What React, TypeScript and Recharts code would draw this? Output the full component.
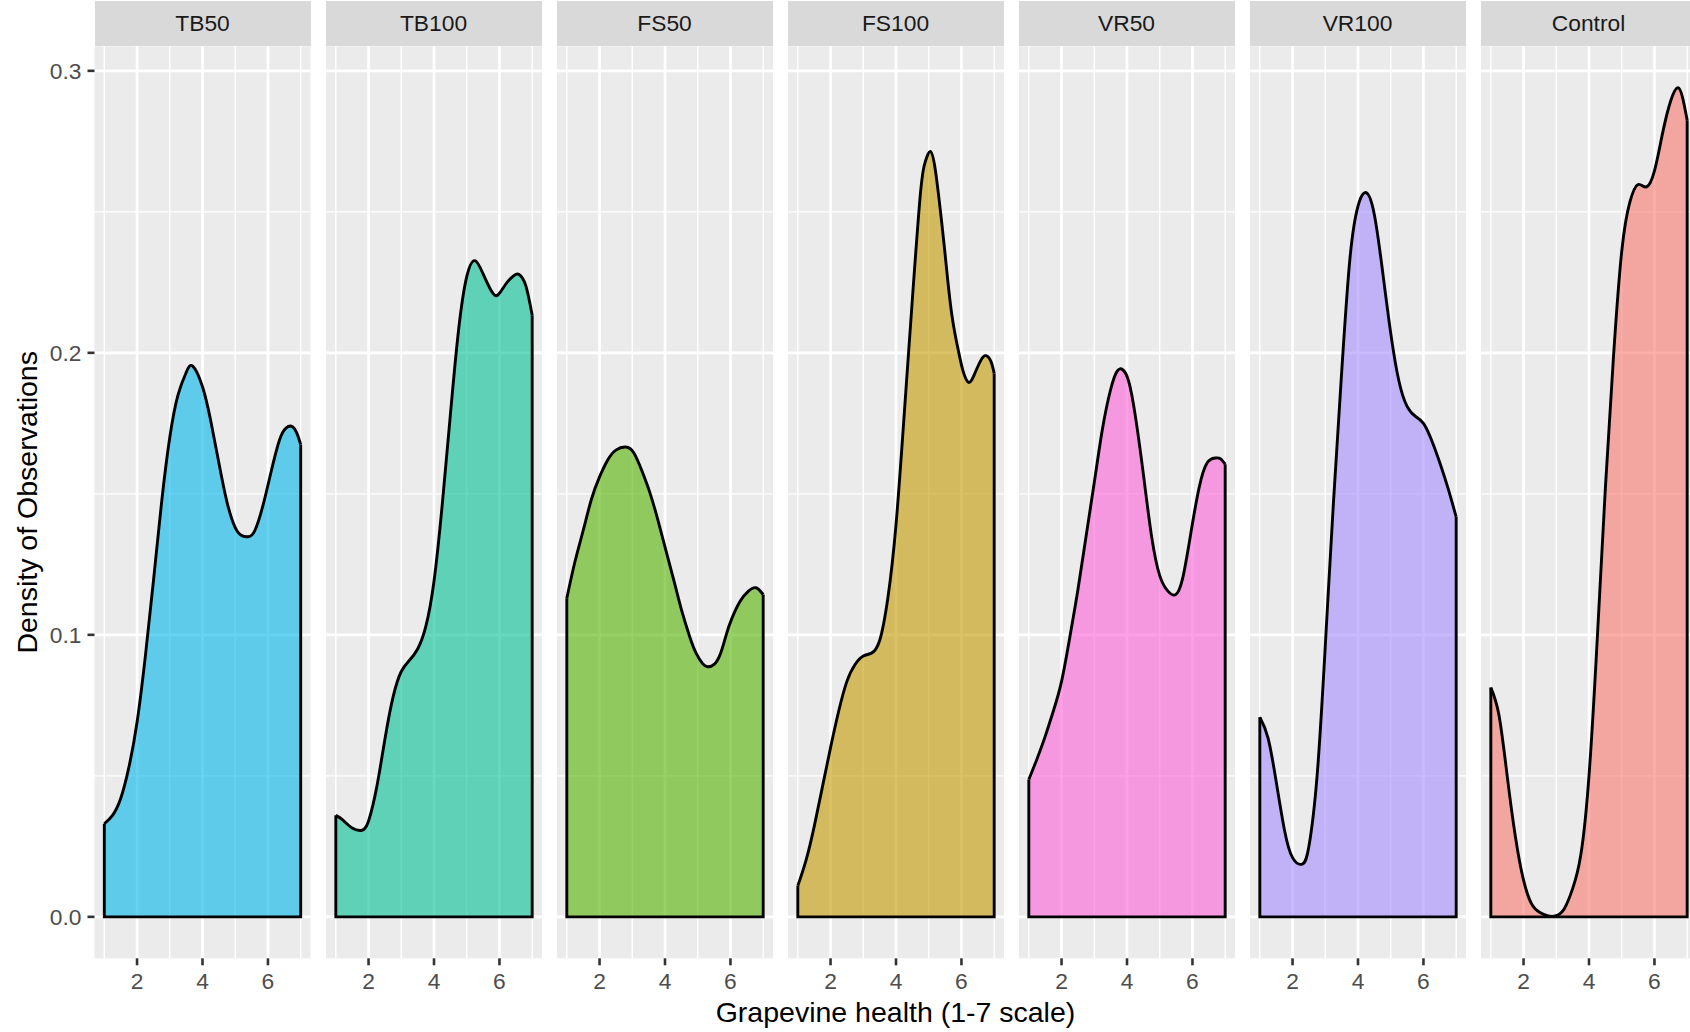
import React from "react";
import { ComposedChart, Area, Line, XAxis, YAxis, CartesianGrid } from "recharts";

// density curves, [health score, density] pairs per treatment
const TB50: [number, number][] = [
  [1, 0.033], [1.25, 0.036], [1.5, 0.042], [1.75, 0.053], [2, 0.069], [2.25, 0.092],
  [2.5, 0.119], [2.75, 0.147], [3, 0.17], [3.25, 0.185], [3.5, 0.193], [3.7, 0.1953],
  [4, 0.188], [4.25, 0.176], [4.5, 0.161], [4.75, 0.147], [5, 0.138], [5.2, 0.1352],
  [5.4, 0.1348], [5.6, 0.137], [5.85, 0.146], [6.1, 0.158], [6.35, 0.169], [6.55, 0.1733],
  [6.75, 0.1738], [6.9, 0.171], [7, 0.1675],
];
const TB100: [number, number][] = [
  [1, 0.036], [1.2, 0.0345], [1.5, 0.0315], [1.8, 0.0307], [2, 0.034], [2.25, 0.046],
  [2.5, 0.063], [2.75, 0.078], [3, 0.087], [3.25, 0.091], [3.5, 0.095], [3.75, 0.103],
  [4, 0.119], [4.25, 0.146], [4.5, 0.178], [4.75, 0.208], [5, 0.227], [5.25, 0.2327],
  [5.5, 0.228], [5.75, 0.222], [5.95, 0.2205], [6.2, 0.2245], [6.45, 0.2275], [6.6, 0.2278],
  [6.8, 0.224], [7, 0.2133],
];
const FS50: [number, number][] = [
  [1, 0.113], [1.25, 0.126], [1.5, 0.137], [1.75, 0.148], [2, 0.156], [2.25, 0.162],
  [2.5, 0.1655], [2.8, 0.1666], [3.05, 0.1645], [3.3, 0.158], [3.55, 0.15], [3.8, 0.14],
  [4.05, 0.129], [4.3, 0.118], [4.5, 0.109], [4.75, 0.0995], [4.95, 0.0935], [5.15, 0.0898],
  [5.3, 0.0887], [5.5, 0.0895], [5.7, 0.0935], [5.87, 0.1], [6.05, 0.106], [6.3, 0.112],
  [6.55, 0.1155], [6.78, 0.1167], [7, 0.1143],
];
const FS100: [number, number][] = [
  [1, 0.011], [1.25, 0.02], [1.5, 0.032], [1.75, 0.046], [2, 0.06], [2.25, 0.073],
  [2.5, 0.0835], [2.75, 0.0895], [3, 0.0925], [3.25, 0.0935], [3.5, 0.098], [3.75, 0.113],
  [4, 0.139], [4.25, 0.178], [4.5, 0.219], [4.75, 0.257], [4.9, 0.268], [5.05, 0.2714],
  [5.2, 0.265], [5.36, 0.25], [5.5, 0.235], [5.7, 0.214], [5.92, 0.2], [6.05, 0.1935],
  [6.22, 0.1895], [6.4, 0.1925], [6.6, 0.1975], [6.75, 0.199], [6.9, 0.197], [7, 0.1927],
];
const VR50: [number, number][] = [
  [1, 0.0487], [1.25, 0.056], [1.5, 0.064], [1.75, 0.073], [2, 0.0835], [2.25, 0.099],
  [2.5, 0.116], [2.75, 0.135], [3, 0.154], [3.25, 0.173], [3.5, 0.187], [3.7, 0.1935],
  [3.87, 0.194], [4.05, 0.19], [4.25, 0.178], [4.5, 0.157], [4.75, 0.135], [5, 0.121],
  [5.25, 0.1155], [5.48, 0.1142], [5.7, 0.12], [5.95, 0.136], [6.2, 0.152], [6.45, 0.161],
  [6.7, 0.1627], [6.85, 0.1625], [7, 0.1605],
];
const VR100: [number, number][] = [
  [1, 0.0708], [1.25, 0.0635], [1.5, 0.048], [1.75, 0.031], [2, 0.021], [2.3, 0.0187],
  [2.5, 0.025], [2.75, 0.05], [3, 0.096], [3.25, 0.147], [3.5, 0.193], [3.75, 0.233],
  [4, 0.252], [4.25, 0.2568], [4.5, 0.249], [4.75, 0.229], [5, 0.207], [5.25, 0.19],
  [5.5, 0.181], [5.75, 0.1775], [6, 0.175], [6.25, 0.169], [6.5, 0.161], [6.75, 0.152],
  [7, 0.1418],
];
const CONTROL: [number, number][] = [
  [1, 0.0813], [1.25, 0.0715], [1.5, 0.05], [1.75, 0.0285], [2, 0.013], [2.25, 0.0045],
  [2.5, 0.0015], [2.75, 0.0003], [3, 0.0004], [3.25, 0.003], [3.5, 0.01], [3.75, 0.022],
  [4, 0.05], [4.25, 0.098], [4.5, 0.152], [4.75, 0.199], [5, 0.236], [5.25, 0.2535],
  [5.5, 0.2597], [5.75, 0.2588], [6, 0.2645], [6.25, 0.278], [6.5, 0.2895], [6.72, 0.294],
  [6.87, 0.29], [7, 0.2825],
];

const GROUPS = ["TB50", "TB100", "FS50", "FS100", "VR50", "VR100", "Control"];
const SERIES = [TB50, TB100, FS50, FS100, VR50, VR100, CONTROL];
// ggplot hue palette, levels sorted alphabetically
const FILLS = ["#00B6EB", "#00C094", "#53B400", "#C49A00", "#FB61D7", "#A58AFF", "#F8766D"];

const X_TICKS = [2, 4, 6];
const X_MINOR = [1, 3, 5, 7];
const Y_TICKS = [0, 0.1, 0.2, 0.3];
const Y_MINOR = [0.05, 0.15, 0.25];

const X_DOMAIN: [number, number] = [0.7, 7.3];
const Y_DOMAIN: [number, number] = [-0.0147, 0.3087];

const PANEL_W = 216;
const PANEL_STEP = 231;
const FIRST_LEFT = 94.5;
const STRIP_TOP = 1;
const PLOT_TOP = 46.3;
const AXIS_H = 40;
const BOTTOM = 33.7;
const H = 1032;

const FONT = '"Liberation Sans", Arial, Helvetica, sans-serif';
const tickStyle = { fill: "#4D4D4D", fontSize: 22.8 };
const tickLine = { stroke: "#333333", strokeWidth: 2.6 };
const OUTLINE = 2.9;

function Panel({ index }: { index: number }) {
  const pts = SERIES[index].map(([x, y]) => ({ x, y }));
  const first = pts[0];
  const last = pts[pts.length - 1];
  // left edge, baseline and right edge of the density polygon
  const frame = [
    { x: first.x, y: first.y },
    { x: first.x, y: 0 },
    { x: last.x, y: 0 },
    { x: last.x, y: last.y },
  ];
  const withAxis = index === 0;
  const axisW = withAxis ? FIRST_LEFT : 0;
  const left = FIRST_LEFT + PANEL_STEP * index;

  return (
    <>
      <div
        style={{
          position: "absolute",
          left,
          top: STRIP_TOP,
          width: PANEL_W,
          height: PLOT_TOP - STRIP_TOP,
          background: "#D9D9D9",
          color: "#1A1A1A",
          fontSize: 22.8,
          display: "flex",
          alignItems: "center",
          justifyContent: "center",
        }}
      >
        {GROUPS[index]}
      </div>
      <div style={{ position: "absolute", left: left - axisW, top: 0 }}>
        <ComposedChart
          width={PANEL_W + axisW}
          height={H}
          margin={{ top: PLOT_TOP, right: 0, bottom: BOTTOM, left: 0 }}
        >
          <CartesianGrid
            fill="#EBEBEB"
            stroke="#FFFFFF"
            strokeWidth={1.4}
            verticalValues={X_MINOR}
            horizontalValues={Y_MINOR}
          />
          <CartesianGrid
            stroke="#FFFFFF"
            strokeWidth={2.7}
            verticalValues={X_TICKS}
            horizontalValues={Y_TICKS}
          />
          <XAxis
            type="number"
            dataKey="x"
            domain={X_DOMAIN}
            allowDataOverflow
            ticks={X_TICKS}
            interval={0}
            height={AXIS_H}
            axisLine={false}
            tickLine={tickLine}
            tickSize={7}
            tickMargin={8}
            tick={tickStyle}
          />
          <YAxis
            type="number"
            dataKey="y"
            domain={Y_DOMAIN}
            allowDataOverflow
            ticks={Y_TICKS}
            interval={0}
            hide={!withAxis}
            width={axisW}
            axisLine={false}
            tickLine={tickLine}
            tickSize={7}
            tickMargin={6}
            tick={tickStyle}
            tickFormatter={(v: number) => v.toFixed(1)}
          />
          <Area
            data={pts}
            dataKey="y"
            type="natural"
            baseValue={0}
            fill={FILLS[index]}
            fillOpacity={0.6}
            stroke="#000000"
            strokeWidth={OUTLINE}
            isAnimationActive={false}
          />
          <Line
            data={frame}
            dataKey="y"
            type="linear"
            stroke="#000000"
            strokeWidth={OUTLINE}
            dot={false}
            activeDot={false}
            isAnimationActive={false}
          />
        </ComposedChart>
      </div>
    </>
  );
}

export default function App() {
  const plotMid = (PLOT_TOP + (H - BOTTOM - AXIS_H)) / 2;
  const panelsMid = FIRST_LEFT + (PANEL_STEP * 6 + PANEL_W) / 2;
  return (
    <div
      style={{
        position: "relative",
        width: 1690,
        height: H,
        overflow: "hidden",
        background: "#FFFFFF",
        fontFamily: FONT,
      }}
    >
      <style>{"body{margin:0}"}</style>
      {GROUPS.map((g, i) => (
        <Panel key={g} index={i} />
      ))}
      <svg
        width={1690}
        height={H}
        style={{ position: "absolute", left: 0, top: 0, pointerEvents: "none" }}
      >
        <text
          x={panelsMid}
          y={1022}
          textAnchor="middle"
          fontSize={28.5}
          fill="#000000"
        >
          Grapevine health (1-7 scale)
        </text>
        <text
          transform={`translate(36.5, ${plotMid}) rotate(-90)`}
          textAnchor="middle"
          fontSize={28.5}
          fill="#000000"
        >
          Density of Observations
        </text>
      </svg>
    </div>
  );
}
